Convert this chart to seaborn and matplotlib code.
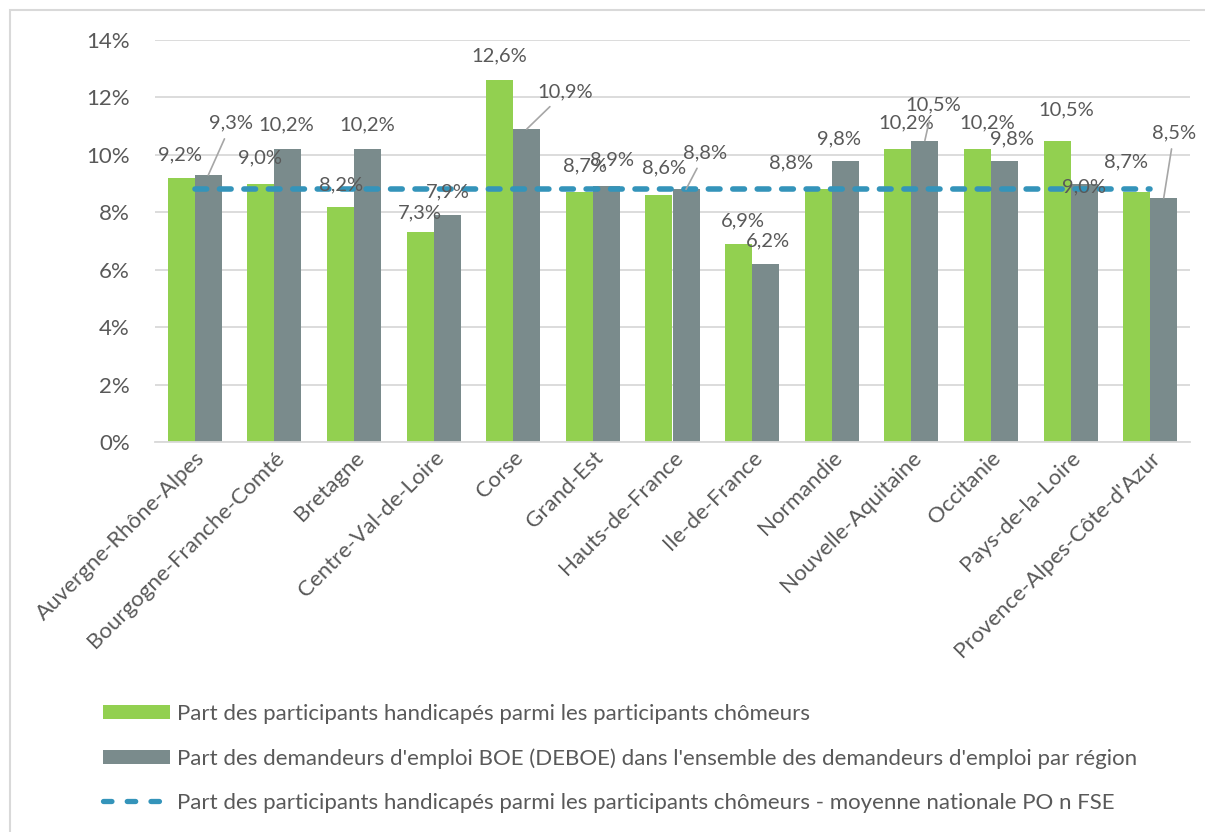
import matplotlib
matplotlib.use("Agg")
import matplotlib.pyplot as plt
from matplotlib.patches import Patch, Rectangle
from matplotlib.lines import Line2D
import seaborn as sns
import pandas as pd

regions = ["Auvergne-Rhône-Alpes", "Bourgogne-Franche-Comté", "Bretagne",
           "Centre-Val-de-Loire", "Corse", "Grand-Est", "Hauts-de-France",
           "Ile-de-France", "Normandie", "Nouvelle-Aquitaine", "Occitanie",
           "Pays-de-la-Loire", "Provence-Alpes-Côte-d'Azur"]
part_participants = [9.2, 9.0, 8.2, 7.3, 12.6, 8.7, 8.6, 6.9, 8.8, 10.2, 10.2, 10.5, 8.7]
part_deboe = [9.3, 10.2, 10.2, 7.9, 10.9, 8.9, 8.8, 6.2, 9.8, 10.5, 9.8, 9.0, 8.5]
moyenne_nationale = 8.8
yticks = [0, 2, 4, 6, 8, 10, 12, 14]

label_green = "Part des participants handicapés parmi les participants chômeurs"
label_gray = "Part des demandeurs d'emploi BOE (DEBOE) dans l'ensemble des demandeurs d'emploi par région"
label_line = "Part des participants handicapés parmi les participants chômeurs - moyenne nationale PO n FSE"

# label placement (offset from category centre, label y in %), leader flag
green_pos = [(-0.19, 10.0), (-0.18, 9.9), (-0.16, 8.95), (-0.17, 7.98), (-0.18, 13.44),
             (-0.10, 9.61), (-0.10, 9.54), (-0.12, 7.7), (-0.51, 9.72), (-0.07, 11.11),
             (-0.05, 11.11), (-0.05, 11.56), (-0.30, 9.75)]
gray_pos = [(0.46, 11.1), (0.15, 11.04), (0.16, 11.04), (0.18, 8.7), (0.65, 12.19),
            (0.24, 9.82), (0.41, 10.07), (0.20, 7.0), (0.09, 10.55), (0.27, 11.74),
            (0.26, 10.55), (0.17, 8.88), (0.30, 10.76)]
gray_leader = [True, False, False, False, True, False, True, False, False, True,
               False, False, True]

GREEN = "#92D050"
GRAY = "#7A8B8C"
BLUE = "#3494BA"
TXT = "#595959"
GRID = "#D9D9D9"

sns.set_theme(style="white")
plt.rcParams["font.family"] = ["Lato", "DejaVu Sans"]

df = pd.DataFrame({
    "region": regions * 2,
    "valeur": part_participants + part_deboe,
    "serie": [label_green] * len(regions) + [label_gray] * len(regions),
})

fig = plt.figure(figsize=(12.05, 8.32), dpi=100)
ax = fig.add_axes([155 / 1205, 1 - 442 / 832, (1190 - 155) / 1205, (442 - 40) / 832])

sns.barplot(data=df, x="region", y="valeur", hue="serie", order=regions,
            hue_order=[label_green, label_gray], palette=[GREEN, GRAY],
            width=0.68, gap=0, saturation=1, ax=ax, legend=False, errorbar=None,
            linewidth=0)

xs = [0, len(regions) - 1]
ax.plot(xs, [moyenne_nationale] * len(xs), color=BLUE, linewidth=4.0,
        linestyle=(0, (2.1, 2.3)), dash_capstyle="round", zorder=5)

ax.set_xlim(-0.5, len(regions) - 0.5)
ax.set_ylim(0, 14)
ax.set_yticks(yticks)
ax.set_yticklabels([f"{t}%" for t in yticks], color=TXT, fontsize=16)
ax.yaxis.grid(True, color=GRID, linewidth=1.3)
ax.set_axisbelow(True)
for s in ["left", "right", "top"]:
    ax.spines[s].set_visible(False)
ax.spines["bottom"].set_color(GRID)
ax.spines["bottom"].set_linewidth(1.3)
ax.tick_params(axis="y", length=0, pad=18)
ax.tick_params(axis="x", length=0, pad=4)
ax.set_xticks(range(len(regions)))
ax.set_xticklabels(regions, rotation=45, ha="right", rotation_mode="anchor",
                   color=TXT, fontsize=16)
ax.set_xlabel("")
ax.set_ylabel("")

def fmt(v):
    return f"{v:.1f}%".replace(".", ",")

for i, v in enumerate(part_participants):
    dx, ly = green_pos[i]
    ax.text(i + dx, ly, fmt(v), ha="center", va="center", fontsize=14.5, color=TXT, zorder=6)

for i, v in enumerate(part_deboe):
    dx, ly = gray_pos[i]
    if gray_leader[i]:
        ax.annotate(fmt(v), xy=(i + 0.17, v), xytext=(i + dx, ly),
                    ha="center", va="center", fontsize=14.5, color=TXT, zorder=6,
                    arrowprops=dict(arrowstyle="-", color="#A6A6A6", lw=1.2,
                                    shrinkA=3, shrinkB=0))
    else:
        ax.text(i + dx, ly, fmt(v), ha="center", va="center", fontsize=14.5, color=TXT, zorder=6)

handles = [
    Patch(facecolor=GREEN, edgecolor="none", label=label_green),
    Patch(facecolor=GRAY, edgecolor="none", label=label_gray),
    Line2D([0], [0], color=BLUE, linewidth=3.8, linestyle=(0, (1.6, 2.9)),
           dash_capstyle="round", label=label_line),
]
leg = fig.legend(handles=handles, loc="upper left", bbox_to_anchor=(103 / 1205, 1 - 704 / 832),
                 frameon=False, fontsize=16, labelcolor=TXT, handlelength=3.0,
                 handleheight=0.63, handletextpad=0.35, labelspacing=1.08,
                 borderpad=0, borderaxespad=0)

fig.patches.append(Rectangle((10 / 1205, -0.05), 1.1, 1.05 - 10 / 832,
                             transform=fig.transFigure, fill=False,
                             edgecolor=GRID, linewidth=1.5))

fig.savefig("out.png", dpi=100)
